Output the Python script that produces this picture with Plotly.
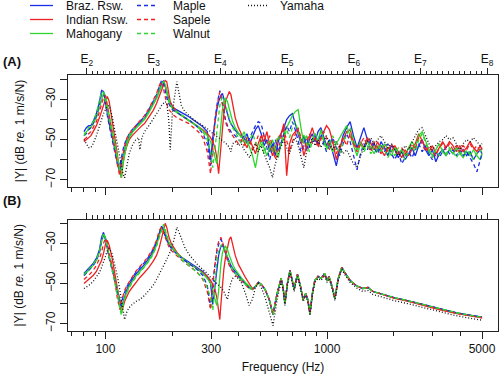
import plotly.graph_objects as go

# ---------------- data ----------------
FREQ_A_LOW = [80, 82, 84, 86, 88, 91, 94, 96, 98, 100,
              102, 104, 107, 110, 113, 116, 118, 120, 122, 125,
              128, 132, 137, 141, 143, 146, 150, 157, 164, 170,
              175, 179, 183, 186, 189, 193, 196, 200, 204, 210,
              214, 220, 228, 238, 250, 262, 275, 288, 298, 305,
              312, 318, 324, 328, 332, 337, 342, 348, 355, 362,
              368, 375, 385, 398]
FREQ_A_HIGH = [410, 422, 435, 448, 461, 475, 489, 504, 519, 535,
               551, 567, 584, 602, 620, 638, 657, 677, 697, 718,
               740, 762, 785, 808, 832, 857, 883, 910, 937, 965,
               994, 1024, 1060, 1100, 1140, 1180, 1225, 1270, 1315, 1365,
               1415, 1465, 1520, 1575, 1630, 1690, 1750, 1815, 1880, 1950,
               2020, 2095, 2170, 2250, 2330, 2415, 2500, 2590, 2685, 2780,
               2880, 2985, 3095, 3205, 3320, 3440, 3565, 3695, 3830, 3970,
               4110, 4260, 4415, 4575, 4740, 4910, 5000]
FREQ_B_LOW = [80, 84, 88, 91, 94, 96, 98, 100, 102, 104,
              107, 110, 113, 116, 118, 120, 122, 125, 128, 132,
              137, 143, 150, 157, 164, 170, 175, 179, 183, 186,
              189, 193, 198, 204, 210, 214, 220, 228, 238, 250,
              262, 275, 288, 298, 305, 312, 318, 324, 328, 332,
              337, 342, 348, 355, 362, 368, 375, 385, 398]
FREQ_B_HIGH = [412, 428, 445, 460, 475, 490, 505, 525, 548, 570,
               595, 620, 633, 645, 662, 680, 695, 710, 722, 735,
               757, 780, 800, 818, 837, 858, 880, 910, 940, 975,
               1000, 1020, 1050, 1085, 1120, 1165, 1200, 1270, 1350, 1450,
               1530, 1610, 1800, 2000, 2300, 2700, 3200, 3800, 4400, 5000]

# ----- panel A: measured mobility (dB re 1 m/s/N) -----
BRAZ_A_LOW = [-46, -44, -43, -43, -41, -37, -31, -25.5, -26, -32,
              -37, -42, -48, -54.5, -61, -66.5, -61, -58, -55, -50.5,
              -48.5, -46, -43.5, -42, -41.3, -40.5, -39.4, -35.5, -32, -29,
              -25.5, -22, -20.5, -22.8, -26, -30, -32, -33.6, -34.4, -35.3,
              -35.8, -36.6, -37.4, -38.6, -40.3, -42, -43.6, -46, -60, -48.6,
              -40.3, -35.3, -31, -29, -27.8, -27, -29.4, -33.6, -37.8, -40.3,
              -42, -43.6, -45.3, -47]
BRAZ_A_HIGH = [-48, -50, -47, -52, -49, -45, -43, -47, -53, -50,
               -56, -52, -58, -51, -47, -44, -40, -38, -37, -42,
               -47, -52, -48, -55, -50, -47, -51, -46, -44, -49,
               -53, -50, -57, -63, -55, -48, -44, -41, -48, -54,
               -49, -44, -50, -55, -52, -56, -51, -54, -58, -53,
               -55, -59, -56, -60, -57, -54, -58, -53, -50, -55,
               -58, -55, -61, -57, -55, -58, -55, -57, -54, -57,
               -55, -58, -56, -60, -57, -55, -57]
INDIAN_A_LOW = [-51, -50, -49, -48, -46, -43, -39, -36, -33, -30,
                -28.5, -31, -40, -48, -57, -66, -69, -62, -57, -53,
                -50, -48, -46, -44.5, -44, -43, -42, -39, -35.5, -32,
                -28.5, -25.5, -22.5, -20.5, -21, -27, -31, -33, -34.5, -36,
                -37, -38, -39, -40.5, -42, -43.5, -45, -47, -49, -51,
                -54, -59, -67, -60, -52, -44, -37, -31, -28, -26,
                -27.5, -33, -39, -44]
INDIAN_A_HIGH = [-47, -51, -54, -50, -53, -57, -52, -48, -51, -46,
                 -53, -58, -54, -49, -47, -42, -68, -52, -48, -46,
                 -45, -50, -58, -53, -48, -44, -49, -53, -49, -46,
                 -43, -45, -51, -60, -54, -50, -46, -45, -51, -55,
                 -51, -54, -49, -52, -55, -51, -55, -58, -54, -56,
                 -53, -56, -59, -55, -58, -55, -52, -47, -51, -54,
                 -56, -53, -57, -54, -51, -54, -51, -53, -56, -53,
                 -56, -54, -51, -54, -56, -53, -55]
MAHOG_A_LOW = [-47, -46, -45, -44, -42, -39, -34, -30, -26.5, -28,
               -33, -38, -45, -51, -58, -64, -69, -62, -57, -52,
               -49, -46.5, -44.5, -43, -42.5, -41.5, -40, -36.5, -33, -29.5,
               -26, -23, -21, -23, -27, -31, -33, -34.5, -35.5, -36.5,
               -37, -38, -39, -40.5, -42, -43.5, -45.5, -48, -51, -55,
               -60, -62, -55, -48, -41, -35, -31, -29.5, -31, -35,
               -38, -41, -44, -47]
MAHOG_A_HIGH = [-49, -46, -50, -54, -58, -64, -56, -50, -54, -58,
                -54, -50, -55, -59, -52, -47, -44, -41, -38, -36,
                -35, -44, -52, -48, -53, -50, -47, -51, -45, -50,
                -54, -51, -56, -52, -49, -46, -43, -48, -53, -58,
                -52, -55, -51, -54, -57, -53, -56, -52, -55, -58,
                -54, -57, -55, -58, -54, -51, -54, -48, -46, -51,
                -55, -58, -55, -52, -56, -58, -55, -57, -54, -57,
                -59, -56, -58, -55, -58, -60, -57]
MAPLE_A_LOW = [-48, -47, -45, -44, -42, -38, -32, -27, -26.5, -33,
               -38, -43, -50, -56, -62, -63, -58, -55, -52, -49,
               -47, -45, -43, -41.5, -41, -40, -38.5, -35, -31, -27.5,
               -23.5, -20.5, -22, -26, -29, -32, -33.5, -35, -35.5, -36.5,
               -37, -38, -39, -40, -42, -44, -47, -52, -63, -50,
               -40, -33, -27, -25.5, -28, -32, -36, -40, -43, -45,
               -46, -47, -48, -50]
MAPLE_A_HIGH = [-51, -48, -52, -49, -46, -43, -41, -42, -48, -55,
                -60, -54, -50, -56, -52, -47, -43, -46, -41, -45,
                -51, -56, -52, -49, -54, -51, -48, -52, -47, -52,
                -56, -53, -49, -54, -58, -52, -47, -51, -58, -65,
                -57, -52, -55, -50, -54, -57, -53, -56, -52, -57,
                -60, -56, -62, -59, -56, -59, -55, -52, -56, -53,
                -57, -60, -56, -59, -56, -54, -57, -55, -58, -55,
                -58, -56, -59, -62, -66, -59, -57]
SAPELE_A_LOW = [-50, -49, -47, -46, -44, -41, -36, -32, -29, -28,
                -33, -39, -47, -54, -62, -68, -62, -57, -53, -49,
                -47, -45, -43, -41, -40.5, -39.5, -38, -34.5, -30.5, -27,
                -23, -21, -25, -29, -32, -35, -36, -37, -38, -39,
                -39.5, -40, -41, -42, -44, -46, -49, -56, -67, -52,
                -41, -34, -28, -26, -28.5, -33, -37, -41, -44, -46,
                -47, -48, -50, -52]
SAPELE_A_HIGH = [-50, -53, -49, -51, -55, -52, -48, -51, -47, -52,
                 -48, -54, -60, -55, -49, -45, -50, -56, -51, -47,
                 -44, -49, -55, -51, -47, -52, -49, -54, -50, -46,
                 -49, -55, -51, -57, -53, -49, -53, -47, -52, -56,
                 -52, -49, -53, -56, -51, -54, -57, -53, -56, -52,
                 -55, -58, -54, -57, -55, -52, -55, -49, -52, -56,
                 -53, -56, -58, -54, -52, -55, -52, -55, -53, -56,
                 -53, -55, -52, -55, -53, -56, -54]
WALNUT_A_LOW = [-48, -46, -44, -43, -41, -37, -31, -26, -26.5, -31,
                -36, -41, -47, -53, -59, -65, -66, -60, -55, -51,
                -48, -46, -44, -42.5, -42, -41, -39.5, -36, -32.5, -29,
                -25.5, -22.5, -21, -22, -26, -30, -32, -34, -35, -36,
                -36.5, -37.5, -38.5, -40, -42, -44, -46, -50, -56, -64,
                -54, -44, -37, -33, -30.5, -29, -30, -33, -37, -40,
                -42, -44, -46, -49]
WALNUT_A_HIGH = [-52, -49, -53, -50, -47, -51, -55, -52, -57, -53,
                 -50, -56, -52, -48, -53, -49, -45, -49, -44, -41,
                 -46, -51, -47, -52, -56, -51, -47, -50, -46, -51,
                 -55, -52, -48, -53, -57, -51, -47, -44, -50, -55,
                 -51, -56, -53, -57, -53, -56, -52, -55, -59, -55,
                 -58, -54, -57, -60, -56, -53, -56, -50, -47, -52,
                 -56, -59, -55, -58, -55, -57, -54, -56, -59, -56,
                 -58, -55, -57, -60, -57, -55, -58]
YAMAHA_A_LOW = [-50, -52, -54, -54, -52, -48, -43, -40, -37, -35,
                -33.5, -33, -38, -45, -52, -59, -63, -67, -69, -62,
                -57, -53, -50, -49, -55, -49, -46, -43, -40, -37.5,
                -35, -33, -31.5, -31, -32, -40, -55, -38, -30, -21,
                -26, -33, -36, -38, -40, -41.5, -43, -44.5, -46, -47,
                -48, -48.5, -49, -49.5, -50, -50.5, -51, -51.5, -52.5, -54,
                -56, -52, -51, -53]
YAMAHA_A_HIGH = [-52, -55, -57, -59, -55, -52, -56, -53, -57, -61,
                 -64, -69, -62, -57, -53, -50, -54, -57, -52, -49,
                 -53, -58, -64, -56, -52, -49, -53, -50, -54, -51,
                 -48, -52, -55, -51, -54, -57, -55, -59, -62, -64,
                 -58, -54, -51, -49, -52, -50, -48, -51, -54, -52,
                 -55, -58, -56, -53, -55, -51, -48, -45, -44, -48,
                 -52, -55, -53, -51, -50, -48, -50, -49, -52, -55,
                 -52, -50, -51, -49, -51, -53, -52]

# ----- panel B: modelled mobility -----
BRAZ_B_LOW = [-45, -42.5, -40, -37.5, -33, -27, -24.5, -28, -33, -37,
              -42, -47, -52, -58, -62, -59, -56, -53, -50.5, -48,
              -45.5, -43, -40.5, -37.5, -34, -30, -25.5, -21.5, -23.5, -26,
              -28, -30, -32, -33.5, -35, -35.8, -36.8, -38, -39.5, -41,
              -42.5, -44, -46.5, -50, -60.5, -50, -42, -36, -33.5, -31.5,
              -30.8, -32.5, -35, -37.5, -39.5, -41, -42.5, -44, -45.5]
BRAZ_B_HIGH = [-48, -50, -52, -53, -51.5, -49.5, -50.5, -53, -58, -65.5,
               -55, -47.5, -52, -60, -50, -43.5, -48, -53, -49, -45.5,
               -51, -58, -55, -58, -65, -55, -48.5, -46.5, -47.5, -45,
               -48.5, -46.5, -51, -57.5, -48, -42, -44.5, -48.5, -51, -52.5,
               -52, -54, -55.5, -57, -58.5, -60.5, -62.5, -64.5, -65.8, -66.8]
INDIAN_B_LOW = [-50, -48, -46, -44, -41, -38.5, -35, -30.5, -28.5, -31,
                -37, -44, -51, -59, -64, -62, -59, -56, -54, -52,
                -49.5, -47, -44.5, -42, -39, -36, -32, -27.5, -23, -20,
                -22, -26.5, -30, -32.5, -34.5, -35.5, -37, -38.5, -40, -41.5,
                -43, -44.5, -46.5, -48.5, -50.5, -53, -57, -64, -68, -60,
                -50, -43, -37, -32, -28, -26.8, -30.5, -36, -40.5]
INDIAN_B_HIGH = [-44, -47, -50, -52.5, -51.5, -49.5, -50.5, -53, -58, -65.5,
                 -55, -47.5, -52, -60, -50, -43.5, -48, -53, -49, -45.5,
                 -51, -58, -55, -58, -65, -55, -48.5, -46.5, -47.5, -45,
                 -48.5, -46.5, -51, -57.5, -48, -42, -44.5, -48.5, -51, -52.5,
                 -52, -54, -55.7, -57.3, -58.8, -60.9, -63, -64.9, -66.2, -67.2]
MAHOG_B_LOW = [-46, -43.5, -41, -38.5, -34.5, -29.5, -25.5, -27, -32, -36.5,
               -42, -47.5, -53, -60, -64, -60, -57, -54, -51.5, -49,
               -46.5, -44, -41.5, -38.5, -35, -31, -26.5, -22.5, -22, -24.5,
               -27, -29.5, -31.5, -33.5, -35, -35.8, -37, -38.5, -40, -41.5,
               -43, -45, -47.5, -50, -53, -58, -61, -54, -46, -40,
               -35, -32.5, -31.5, -33, -36, -38.5, -40.5, -43, -45.5]
MAHOG_B_HIGH = [-47.5, -49.5, -51.5, -52.8, -51.5, -49.5, -50.5, -53, -58, -65.5,
                -55, -47.5, -52, -60, -50, -43.5, -48, -53, -49, -45.5,
                -51, -58, -55, -58, -65, -55, -48.5, -46.5, -47.5, -45,
                -48.5, -46.5, -51, -57.5, -48, -42, -44.5, -48.5, -51, -52.5,
                -52, -54, -55.5, -57, -58.6, -60.6, -62.6, -64.6, -65.9, -66.9]
MAPLE_B_LOW = [-46, -43.5, -41, -38.5, -34.5, -29, -25.5, -27.5, -33, -37.5,
               -43, -48.5, -54, -61, -60, -56.5, -54, -51.5, -49.5, -47,
               -44.5, -42, -39.5, -36.5, -33, -29, -24.5, -21.5, -24, -26.5,
               -28.5, -30.5, -32.5, -34, -35.5, -36.3, -37.3, -38.5, -40, -41.5,
               -43.5, -46, -51, -62, -50, -40, -34, -30, -28.5, -28,
               -29.5, -32, -35, -38, -40.5, -42, -43.5, -45, -46.5]
MAPLE_B_HIGH = [-48, -50.5, -52.3, -53.2, -51.5, -49.5, -50.5, -53, -58, -65.5,
                -55, -47.5, -52, -60, -50, -43.5, -48, -53, -49, -45.5,
                -51, -58, -55, -58, -65, -55, -48.5, -46.5, -47.5, -45,
                -48.5, -46.5, -51, -57.5, -48, -42, -44.5, -48.5, -51, -52.5,
                -52, -54, -55.5, -57, -58.5, -60.5, -62.5, -64.5, -65.8, -66.8]
SAPELE_B_LOW = [-48, -46, -43.5, -41, -37.5, -34.5, -30, -27.5, -30, -35,
                -41, -48, -57, -63, -59, -56, -53.5, -51, -49, -46.5,
                -44, -41.5, -39, -36, -32.5, -28.5, -23.5, -22, -25, -27.5,
                -29.5, -31.5, -33.5, -35, -36.5, -37.3, -38.3, -39.5, -41, -43,
                -45, -48, -54, -63, -50, -39, -33, -29, -27.5, -27,
                -29, -32, -35.5, -38.5, -41, -42.5, -44, -45.5, -47]
SAPELE_B_HIGH = [-48.5, -50.5, -52.5, -53, -51.5, -49.5, -50.5, -53, -58, -65.5,
                 -55, -47.5, -52, -60, -50, -43.5, -48, -53, -49, -45.5,
                 -51, -58, -55, -58, -65, -55, -48.5, -46.5, -47.5, -45,
                 -48.5, -46.5, -51, -57.5, -48, -42, -44.5, -48.5, -51, -52.5,
                 -52, -54, -55.6, -57.2, -58.7, -60.8, -62.8, -64.8, -66.1, -67.1]
WALNUT_B_LOW = [-45.5, -43, -40.5, -38, -34, -28.5, -25, -27.5, -32.5, -37,
                -43, -49, -55, -62, -66, -61, -57.5, -54.5, -52, -49.5,
                -47, -44.5, -42, -39, -35.5, -31.5, -27, -23, -20.5, -23,
                -26, -29, -31.5, -33.5, -35.5, -36.5, -38, -39.5, -41, -43,
                -45, -47.5, -52, -57, -63.5, -47, -38.5, -34, -32, -31,
                -30.5, -31.5, -34, -37, -39.5, -41.5, -43, -45, -47]
WALNUT_B_HIGH = [-48.5, -50.5, -52.3, -53, -51.5, -49.5, -50.5, -53, -58, -65.5,
                 -55, -47.5, -52, -60, -50, -43.5, -48, -53, -49, -45.5,
                 -51, -58, -55, -58, -65, -55, -48.5, -46.5, -47.5, -45,
                 -48.5, -46.5, -51, -57.5, -48, -42, -44.5, -48.5, -51, -52.5,
                 -52, -54, -55.5, -57, -58.5, -60.5, -62.5, -64.5, -65.8, -66.8]
YAMAHA_B_LOW = [-52.5, -51, -49, -47, -44.5, -42, -39.5, -36.5, -33.5, -32.5,
                -35, -40, -46, -53, -58, -63, -68, -64, -62, -60.5,
                -59, -58, -56, -53.5, -51, -48, -45.5, -43.5, -41, -39.5,
                -38, -36, -33, -28, -22, -24, -28, -32, -35.5, -38.5,
                -41, -43, -45, -47, -48, -49, -50, -51, -51.5, -52,
                -53, -54, -56, -58, -53, -49.5, -47.5, -46.5, -47.5]
YAMAHA_B_HIGH = [-50, -55, -61, -58, -52, -50, -52, -57, -64, -71,
                 -58, -49, -53, -61, -51, -44.5, -49, -54, -50, -46.5,
                 -52, -59, -56, -59, -66, -56, -49.5, -47.5, -48.5, -46,
                 -49.5, -47.5, -52, -58.5, -49, -43, -45.5, -49.5, -52, -54,
                 -53.5, -55.5, -57, -58.5, -60, -62, -64, -66, -67.3, -68.3]

SERIES_NAMES = ["Braz. Rsw.", "Indian Rsw.", "Mahogany", "Maple", "Sapele", "Walnut", "Yamaha"]
PANEL_A = [(BRAZ_A_LOW, BRAZ_A_HIGH), (INDIAN_A_LOW, INDIAN_A_HIGH), (MAHOG_A_LOW, MAHOG_A_HIGH),
           (MAPLE_A_LOW, MAPLE_A_HIGH), (SAPELE_A_LOW, SAPELE_A_HIGH), (WALNUT_A_LOW, WALNUT_A_HIGH),
           (YAMAHA_A_LOW, YAMAHA_A_HIGH)]
PANEL_B = [(BRAZ_B_LOW, BRAZ_B_HIGH), (INDIAN_B_LOW, INDIAN_B_HIGH), (MAHOG_B_LOW, MAHOG_B_HIGH),
           (MAPLE_B_LOW, MAPLE_B_HIGH), (SAPELE_B_LOW, SAPELE_B_HIGH), (WALNUT_B_LOW, WALNUT_B_HIGH),
           (YAMAHA_B_LOW, YAMAHA_B_HIGH)]

E_NOTE_HZ = [82.41, 164.81, 329.63, 659.26, 1318.51, 2637.02, 5274.04]
E_NOTE_LABELS = ["E<sub>2</sub>", "E<sub>3</sub>", "E<sub>4</sub>", "E<sub>5</sub>",
                 "E<sub>6</sub>", "E<sub>7</sub>", "E<sub>8</sub>"]
FREQ_MAJOR_TICKS = [100, 300, 1000, 5000]
FREQ_MAJOR_LABELS = ["100", "300", "1000", "5000"]
FREQ_MINOR_TICKS = [70, 80, 90, 200, 400, 500, 600, 700, 800, 900, 2000, 3000, 4000]
DB_LABEL_TICKS = [-30, -50, -70]
DB_LABELS = ["\u221230", "\u221250", "\u221270"]
DB_UNLABELLED_TICKS = [-20, -40, -60]

# ---------------- styling ----------------
BLUE, RED, GREEN, BLACK = "#1a2ee6", "#ee2020", "#2ed62e", "#111111"
STYLES = [(BLUE, "solid"), (RED, "solid"), (GREEN, "solid"),
          (BLUE, "4px,3px"), (RED, "4px,3px"), (GREEN, "4px,3px"),
          (BLACK, "1px,2px")]
FONT = "Liberation Sans, Arial, Helvetica, sans-serif"
W, H = 500, 374
ML, MR, MT, MB = 68, 2, 75, 43
XR = [1.831, 3.771]

# semitone positions (12-TET) between E2 and E8 for the top note axis
SEMITONES = [E_NOTE_HZ[0] * 2 ** (k / 12) for k in range(1, 72) if k % 12 != 0]


def check(name, vals, grid):
    if len(vals) != len(grid):
        raise ValueError(f"{name}: {len(vals)} values vs {len(grid)} frequencies")


fig = go.Figure()
for i, name in enumerate(SERIES_NAMES):
    col, dash = STYLES[i]
    lo, hi = PANEL_A[i]
    check(name + " A low", lo, FREQ_A_LOW)
    check(name + " A high", hi, FREQ_A_HIGH)
    fig.add_trace(go.Scatter(x=FREQ_A_LOW + FREQ_A_HIGH, y=lo + hi, mode="lines", name=name,
                             line=dict(color=col, width=1.3, dash=dash),
                             xaxis="x", yaxis="y", showlegend=False))
for i, name in enumerate(SERIES_NAMES):
    col, dash = STYLES[i]
    lo, hi = PANEL_B[i]
    check(name + " B low", lo, FREQ_B_LOW)
    check(name + " B high", hi, FREQ_B_HIGH)
    fig.add_trace(go.Scatter(x=FREQ_B_LOW + FREQ_B_HIGH, y=lo + hi, mode="lines", name=name,
                             line=dict(color=col, width=1.3, dash=dash),
                             xaxis="x2", yaxis="y2", showlegend=False))

# carriers for the top (musical note) axes
fig.add_trace(go.Scatter(x=E_NOTE_HZ, y=[None] * len(E_NOTE_HZ), mode="lines",
                         xaxis="x3", yaxis="y", showlegend=False, hoverinfo="skip"))
fig.add_trace(go.Scatter(x=E_NOTE_HZ, y=[None] * len(E_NOTE_HZ), mode="lines",
                         xaxis="x4", yaxis="y2", showlegend=False, hoverinfo="skip"))

ax_common = dict(showgrid=False, zeroline=False, linecolor="#222", linewidth=1, automargin=False,
                 tickcolor="#222", tickwidth=1, tickfont=dict(family=FONT, size=12, color="#111"))

xbottom = dict(type="log", range=XR, showline=True, mirror=True, ticks="outside",
               tickmode="array", tickvals=FREQ_MAJOR_TICKS, ticktext=FREQ_MAJOR_LABELS, ticklen=7,
               minor=dict(tickmode="array", tickvals=FREQ_MINOR_TICKS, ticks="outside",
                          ticklen=4, tickcolor="#222", tickwidth=1, showgrid=False),
               **ax_common)
xtop = dict(type="log", range=XR, side="top", showline=False, ticks="outside",
            tickmode="array", tickvals=E_NOTE_HZ, ticktext=E_NOTE_LABELS, ticklen=6,
            minor=dict(tickmode="array", tickvals=SEMITONES, ticks="outside",
                       ticklen=3.5, tickcolor="#222", tickwidth=1, showgrid=False),
            **ax_common)
yax = dict(showline=True, mirror=True, ticks="outside", ticklen=7, tickmode="array",
           tickvals=DB_LABEL_TICKS, ticktext=DB_LABELS, tickangle=-90,
           minor=dict(tickmode="array", tickvals=DB_UNLABELLED_TICKS, ticks="outside",
                      ticklen=7, tickcolor="#222", tickwidth=1, showgrid=False),
           title=dict(text="|Y| (dB <i>re.</i> 1 m/s/N)", font=dict(family=FONT, size=12, color="#111"),
                      standoff=17),
           **ax_common)

pA = [0.5625, 1.0]
pB = [0.0, 0.4355]

fig.update_layout(
    width=W, height=H,
    margin=dict(l=ML, r=MR, t=MT, b=MB, autoexpand=False),
    paper_bgcolor="white", plot_bgcolor="white",
    font=dict(family=FONT, size=12, color="#111"),
    xaxis=dict(domain=[0, 1], anchor="y", showticklabels=False, **xbottom),
    xaxis2=dict(domain=[0, 1], anchor="y2", showticklabels=True,
                title=dict(text="Frequency (Hz)", font=dict(family=FONT, size=12, color="#111"),
                           standoff=8),
                **xbottom),
    xaxis3=dict(overlaying="x", anchor="y", showticklabels=True, **xtop),
    xaxis4=dict(overlaying="x2", anchor="y2", showticklabels=False, **xtop),
    yaxis=dict(domain=pA, anchor="x", range=[-73.6, -17.75], **yax),
    yaxis2=dict(domain=pB, anchor="x2", range=[-73.7, -18.1], **yax),
    showlegend=False,
)


def px_x(px):
    return (px - ML) / (W - ML - MR)


def px_y(py):
    return (H - MB - py) / (H - MT - MB)


annotations = [
    dict(text="<b>(A)</b>", x=px_x(1), y=px_y(61), xref="paper", yref="paper",
         xanchor="left", yanchor="middle", showarrow=False, font=dict(family=FONT, size=13)),
    dict(text="<b>(B)</b>", x=px_x(1), y=px_y(200), xref="paper", yref="paper",
         xanchor="left", yanchor="middle", showarrow=False, font=dict(family=FONT, size=13)),
]
shapes = []
# legend: three columns drawn in the top margin
LEG_COLS = [(30, 53, 64), (137, 158, 171), (248, 267, 278)]
LEG_ROWS = [5.5, 19.5, 33.5]
for i, name in enumerate(SERIES_NAMES):
    c, r = divmod(i, 3)
    x0, x1, xt = LEG_COLS[c]
    yy = LEG_ROWS[r]
    col, dash = STYLES[i]
    shapes.append(dict(type="line", xref="paper", yref="paper", x0=px_x(x0), x1=px_x(x1),
                       y0=px_y(yy), y1=px_y(yy), line=dict(color=col, width=1.3, dash=dash)))
    annotations.append(dict(text=name, x=px_x(xt), y=px_y(yy), xref="paper", yref="paper",
                            xanchor="left", yanchor="middle", showarrow=False,
                            font=dict(family=FONT, size=12, color="#111")))
fig.update_layout(annotations=annotations, shapes=shapes)

# the page's default 8px body margin would shift and clip the 500x374 figure
fig.write_html("out.html", config={"displayModeBar": False},
               post_script="document.body.style.margin='0';document.body.style.overflow='hidden';")
